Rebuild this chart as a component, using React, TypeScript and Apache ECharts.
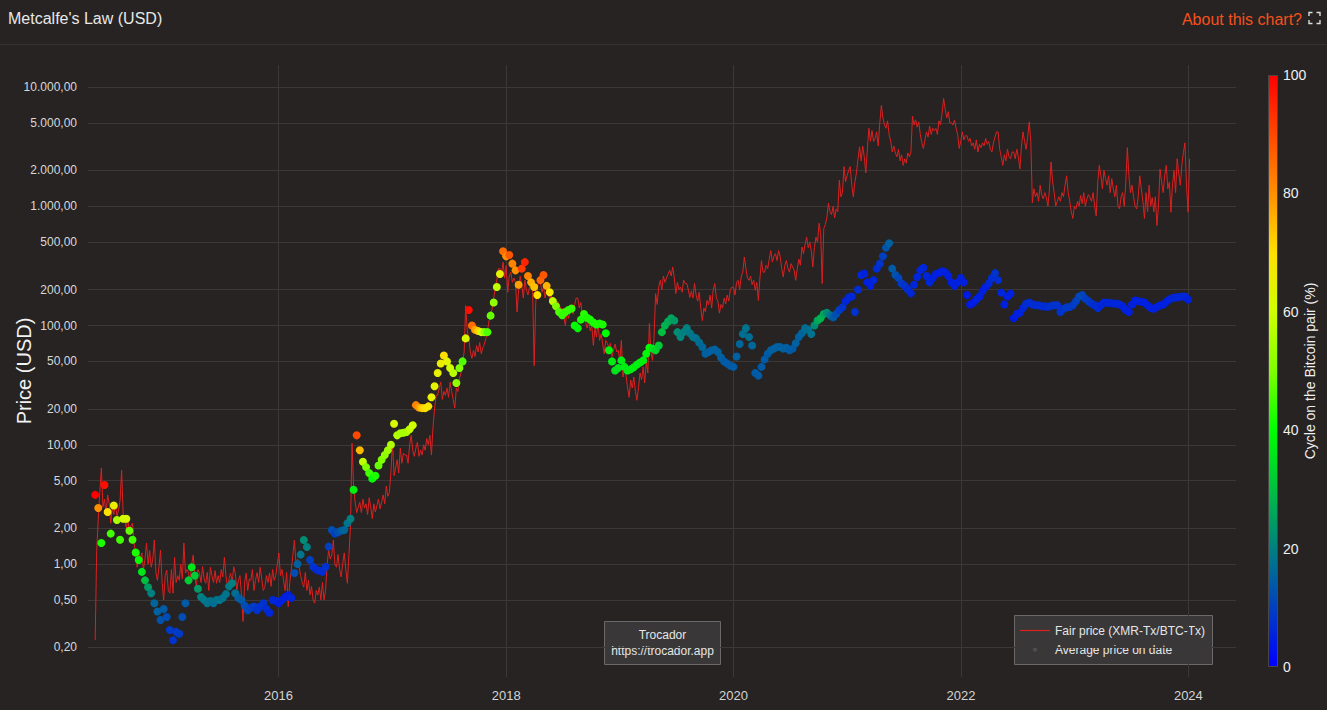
import React, { useEffect, useRef } from 'react';
import * as echarts from 'echarts';

// ---- data ----
// Fair price (XMR-Tx/BTC-Tx), one reading every 5 days from 2014-05-22
const FAIR_START = '2014-05-22';
const FAIR_STEP_DAYS = 5;
const fairPrice = [
  0.23, 1.3, 2.4, 4.0, 6.4, 3.0, 3.5, 2.6, 3.8, 3.25,
  2.2, 3.0, 2.6, 3.25, 2.5, 2.84, 3.4, 6.1, 2.6, 2.34,
  2.0, 2.4, 1.8, 2.1, 2.2, 1.5, 1.2, 0.94, 1.3, 1.1,
  1.24, 0.9, 1.1, 1.5, 1.0, 1.3, 0.94, 1.1, 1.59, 0.85,
  0.73, 0.95, 1.31, 0.7, 0.5, 0.8, 0.89, 0.6, 0.57, 0.9,
  0.57, 1.14, 0.7, 0.8, 0.73, 1.0, 0.75, 1.5, 0.84, 0.9,
  0.84, 0.7, 1.0, 1.19, 0.8, 0.64, 0.9, 0.84, 0.7, 0.95,
  0.75, 0.69, 0.85, 0.6, 0.94, 0.8, 0.7, 0.88, 0.69, 0.8,
  0.7, 0.9, 0.78, 1.14, 0.8, 0.64, 0.75, 0.84, 0.7, 0.95,
  0.84, 0.6, 0.73, 0.8, 0.55, 0.33, 0.7, 0.84, 0.6, 0.75,
  0.73, 0.9, 0.6, 0.73, 0.85, 0.7, 0.94, 0.75, 0.6, 0.64,
  0.8, 0.7, 0.84, 0.65, 0.9, 0.73, 0.8, 1.0, 1.24, 0.8,
  0.9, 0.73, 0.6, 0.85, 0.44, 0.7, 0.9, 1.2, 1.59, 1.0,
  1.1, 0.94, 0.8, 0.7, 0.64, 0.85, 0.6, 0.73, 0.55, 0.65,
  0.5, 0.47, 0.6, 0.55, 0.64, 0.5, 0.7, 0.5, 0.6, 1.0,
  1.31, 1.1, 1.2, 1.59, 1.0, 0.94, 1.2, 0.9, 0.78, 1.0,
  1.24, 0.9, 0.69, 1.2, 2.04, 10.3, 4.5, 3.3, 2.7, 3.0,
  3.3, 2.7, 3.5, 2.95, 3.2, 2.6, 3.6, 3.0, 2.4, 3.2,
  2.73, 3.1, 3.5, 2.9, 3.3, 3.8, 3.2, 4.5, 3.7, 4.0,
  6.0, 10.5, 5.5, 6.4, 7.5, 5.8, 9.4, 7.0, 8.5, 8.2,
  8.2, 7.0, 10, 12, 9.0, 8.0, 9.4, 10.5, 8.0, 9.0,
  8.2, 10, 9.0, 11.3, 10, 12, 8.2, 14, 20, 26,
  26, 30, 33.5, 24, 28, 26, 30, 25, 33.5, 28,
  24, 20.3, 30, 28, 36, 40, 49, 60, 147, 90,
  78, 60, 53, 62, 55, 68, 60, 72, 58, 65,
  70, 78, 90, 110, 116, 140, 170, 206, 240, 300,
  300, 270, 340, 250, 318, 190, 260, 280, 230, 250,
  230, 130, 200, 260, 218, 170, 240, 200, 180, 210,
  230, 190, 46, 156, 200, 250, 230, 190, 210, 170,
  200, 190, 165, 180, 156, 170, 140, 160, 150, 139,
  139, 120, 100, 130, 115, 130, 140, 125, 150, 170,
  170, 140, 156, 120, 130, 107, 95, 110, 90, 100,
  68, 95, 80, 104, 75, 85, 70, 58, 75, 71,
  65, 71, 55, 62, 70, 60, 62, 50, 75, 37,
  45, 38, 30, 25, 35, 30, 37, 28, 23.6, 30,
  40, 35, 45, 33, 50, 40, 104, 60, 51, 80,
  185, 150, 210, 239, 200, 260, 230, 250, 270, 290,
  260, 310, 250, 185, 230, 200, 210, 190, 240, 225,
  225, 200, 172, 195, 170, 225, 180, 160, 190, 140,
  110, 140, 130, 162, 150, 180, 140, 200, 225, 170,
  160, 127, 150, 140, 170, 152, 180, 160, 200, 210,
  210, 180, 230, 239, 200, 260, 280, 375, 300, 250,
  239, 260, 220, 240, 197, 230, 162, 250, 350, 280,
  280, 320, 300, 360, 425, 340, 380, 400, 350, 425,
  380, 300, 255, 320, 350, 300, 280, 330, 310, 290,
  239, 300, 360, 320, 455, 400, 480, 550, 450, 500,
  420, 310, 450, 550, 500, 720, 600, 225, 650, 700,
  800, 1060, 900, 850, 1000, 800, 950, 900, 1650, 1200,
  1300, 2150, 1600, 1800, 2000, 2150, 1500, 1200, 1600, 1900,
  2500, 3150, 2400, 3200, 2600, 1900, 3000, 4500, 3500, 4300,
  3500, 3700, 4200, 3200, 5000, 7000, 5500, 4800, 4500, 5200,
  4000, 3500, 2850, 3200, 2800, 2600, 3000, 2400, 2700, 2200,
  2500, 2300, 2800, 2600, 2850, 5700, 4800, 5300, 4600, 5100,
  4000, 3400, 3050, 3600, 4200, 3800, 4700, 4000, 4500, 4300,
  4500, 4000, 5200, 4800, 6000, 8000, 6500, 5500, 6200, 5000,
  5000, 4800, 5300, 4500, 4000, 3050, 3500, 4200, 3600, 3900,
  3900, 3500, 3700, 3200, 3400, 3000, 3600, 2850, 3300, 3100,
  3400, 3200, 3700, 3300, 3500, 3000, 2850, 3400, 3800, 4200,
  4200, 3000, 2600, 2200, 2700, 2400, 3000, 2600, 2500, 2850,
  2850, 2500, 3000, 2600, 2050, 3200, 4200, 3500, 3000, 3800,
  5100, 3500, 1070, 1400, 1200, 1300, 1100, 1500, 1250, 1150,
  1300, 1180, 1000, 1400, 2350, 1600, 1300, 1000, 1100, 1200,
  1100, 1300, 1200, 1500, 1800, 1300, 1100, 900, 790, 1000,
  950, 1100, 1000, 1230, 1050, 1300, 1000, 1150, 1250, 1180,
  1100, 1300, 1000, 830, 1600, 2200, 1800, 1400, 2000, 1700,
  1500, 1800, 1300, 1700, 1400, 1200, 1500, 1000, 950, 1200,
  1300, 1000, 1560, 3100, 1800, 1300, 1500, 1200, 1000, 950,
  1200, 1800, 1400, 1100, 790, 1300, 900, 1500, 1000, 1180,
  900, 1200, 690, 1000, 2050, 1600, 1300, 1800, 2200, 1400,
  1600, 890, 1500, 2000, 1300, 2500, 1900, 1500, 2200, 2800,
  3400, 1500, 890, 2500,
];

// Average price on date, one reading every 10 days from 2014-05-22
const AVG_START = '2014-05-22';
const AVG_STEP_DAYS = 10;
const avgPrice = [
  3.8, 2.95, 1.5, 4.6, 2.73, 1.8, 3.1, 2.34, 1.6, 2.4,
  2.4, 1.9, 1.6, 1.25, 1.08, 0.86, 0.73, 0.64, 0.57, 0.47,
  0.4, 0.34, 0.42, 0.36, 0.28, 0.23, 0.27, 0.26, 0.36, 0.47,
  0.73, 0.94, 0.8, 0.62, 0.53, 0.5, 0.47, 0.49, 0.47, 0.5,
  0.5, 0.52, 0.56, 0.65, 0.69, 0.57, 0.52, 0.5, 0.45, 0.41,
  0.43, 0.44, 0.41, 0.44, 0.47, 0.42, 0.39, 0.5, 0.49, 0.47,
  0.5, 0.53, 0.55, 0.52, 0.84, 1.0, 1.2, 1.59, 1.39, 1.08,
  0.95, 0.9, 0.88, 0.86, 0.95, 1.4, 1.93, 1.8, 1.85, 1.9,
  1.93, 2.2, 2.4, 4.2, 12, 9.0, 7.2, 6.5, 5.8, 5.2,
  5.5, 6.7, 7.5, 8.2, 9.0, 10, 15, 12, 12.5, 12.6,
  12.8, 13.5, 14.6, 21.5, 20.5, 20.3, 20.3, 21, 25, 31,
  40, 48, 56, 50, 44, 40, 33, 44, 50, 78,
  135, 100, 92, 90, 88, 88, 88, 121, 156, 210,
  270, 420, 380, 390, 330, 290, 220, 300, 340, 260,
  230, 210, 180, 240, 265, 215, 190, 160, 145, 130,
  122, 130, 135, 139, 100, 95, 112, 125, 116, 112,
  106, 102, 104, 102, 86, 62, 50, 42, 44, 51,
  45, 42, 43, 44.6, 47, 49, 51, 58, 65, 64,
  62, 68, 88, 100, 108, 115, 110, 88, 80, 88,
  95, 86, 80, 78, 72, 66, 58, 60, 62, 63,
  60, 54, 50, 48, 46, 45, 55, 70, 85, 95,
  80, 68, 40, 38, 45, 52, 58, 62, 64, 66,
  66, 64, 65, 62, 64, 71, 80, 86, 95, 92,
  85, 100, 110, 115, 125, 128, 122, 117, 125, 135,
  142, 160, 172, 175, 130, 200, 265, 273, 230, 215,
  240, 300, 330, 380, 450, 490, 300, 265, 250, 225,
  215, 200, 186, 220, 255, 290, 305, 260, 230, 250,
  270, 276, 285, 280, 260, 230, 215, 230, 250, 230,
  180, 150, 155, 165, 175, 195, 210, 225, 250, 275,
  240, 189, 150, 175, 185, 115, 125, 128, 140, 152,
  156, 150, 148, 148, 145, 145, 143, 146, 148, 148,
  130, 138, 142, 143, 148, 160, 175, 180, 168, 160,
  153, 148, 140, 148, 156, 155, 154, 153, 153, 150,
  145, 135, 130, 150, 162, 160, 158, 156, 148, 140,
  138, 143, 148, 150, 158, 165, 170, 172, 173, 175,
  175, 165,
];
// Cycle on the Bitcoin pair (%), same dates as avgPrice
const cycle = [
  100, 80, 42, 98, 70, 45, 66, 55, 45, 60,
  62, 48, 45, 42, 40, 36, 30, 24, 20, 16,
  15, 13, 14, 12, 9, 8, 9, 9, 12, 14,
  32, 36, 32, 24, 20, 19, 18, 18, 17, 18,
  18, 18, 18, 19, 20, 17, 15, 14, 12, 11,
  10, 9, 8, 8, 8, 7, 6, 6, 6, 5,
  5, 5, 5, 6, 12, 15, 18, 22, 20, 10,
  8, 7, 7, 7, 8, 10, 12, 10, 12, 14,
  16, 18, 20, 38, 90, 75, 58, 50, 45, 40,
  42, 48, 50, 52, 54, 56, 62, 56, 55, 55,
  55, 58, 60, 82, 78, 72, 70, 68, 65, 64,
  65, 66, 70, 64, 60, 57, 52, 50, 46, 62,
  98, 85, 78, 72, 60, 52, 46, 48, 52, 58,
  64, 85, 80, 88, 82, 80, 78, 92, 95, 82,
  76, 74, 70, 86, 88, 76, 68, 58, 50, 46,
  44, 44, 44, 44, 40, 39, 42, 43, 42, 42,
  42, 42, 42, 42, 40, 38, 37, 36, 36, 37,
  37, 37, 37, 38, 38, 38, 38, 39, 40, 36,
  34, 32, 30, 28, 27, 26, 24, 22, 21, 20,
  20, 19, 18, 18, 17, 16, 15, 15, 15, 15,
  15, 15, 14, 14, 14, 14, 15, 16, 17, 18,
  17, 16, 14, 14, 14, 14, 14, 15, 15, 15,
  15, 15, 15, 14, 14, 15, 15, 16, 17, 17,
  18, 22, 26, 28, 26, 22, 18, 14, 12, 10,
  8, 6, 6, 6, 8, 7, 6, 5, 5, 5,
  6, 7, 8, 10, 13, 15, 14, 13, 11, 9,
  8, 7, 6, 6, 6, 6, 6, 6, 6, 5,
  5, 5, 5, 5, 5, 5, 5, 5, 5, 5,
  4, 4, 4, 5, 5, 5, 5, 6, 7, 8,
  7, 6, 5, 5, 5, 4, 5, 5, 6, 7,
  7, 7, 7, 7, 7, 7, 7, 8, 8, 8,
  8, 8, 9, 9, 9, 10, 11, 11, 10, 9,
  8, 7, 7, 6, 6, 6, 6, 6, 6, 6,
  5, 5, 5, 5, 5, 5, 5, 5, 5, 5,
  5, 5, 5, 5, 5, 5, 6, 6, 6, 6,
  6, 5,
];

const yTickValues = [0.2, 0.5, 1, 2, 5, 10, 20, 50, 100, 200, 500, 1000, 2000, 5000, 10000];
const xTickYears = [2016, 2018, 2020, 2022, 2024];
const cycleColors = [
  '#0000ff', '#0040c0', '#008080', '#00c040', '#00ff00', '#80ff00',
  '#d0ff00', '#ffe000', '#ff9000', '#ff4800', '#ff0000',
];

const DAY = 86400000;
const FONT = '"Liberation Sans", Arial, sans-serif';
const GRID = '#3b3838';
const BG = '#262322';

function fmtEU(v: number): string {
  const s = Number(v).toFixed(2);
  const [i, d] = s.split('.');
  return i.replace(/\B(?=(\d{3})+(?!\d))/g, '.') + ',' + d;
}

export default function App() {
  const ref = useRef<HTMLDivElement>(null);
  useEffect(() => {
    const chart = echarts.init(ref.current!, null, { renderer: 'svg' });
    const f0 = Date.parse(FAIR_START + 'T00:00:00Z');
    const a0 = Date.parse(AVG_START + 'T00:00:00Z');
    const fairData = fairPrice.map((v, i) => [f0 + i * FAIR_STEP_DAYS * DAY, v]);
    const avgData = avgPrice.map((v, i) => [a0 + i * AVG_STEP_DAYS * DAY, v, cycle[i]]);
    const xTicks = xTickYears.map((y) => Date.UTC(y, 0, 1));
    const stops = cycleColors.map((c, i) => ({ offset: i / (cycleColors.length - 1), color: c }));

    const iconColor = '#dcdcdc';
    const option: any = {
      animation: false,
      backgroundColor: BG,
      textStyle: { fontFamily: FONT },
      title: {
        text: "Metcalfe's Law (USD)",
        left: 8,
        top: 10,
        padding: 0,
        textStyle: { color: '#e8e8e8', fontSize: 16, fontWeight: 'normal', fontFamily: FONT },
      },
      grid: [
        { left: 88, right: 91, top: 65, bottom: 33, containLabel: false, outerBoundsMode: 'none' },
        { left: 1268, width: 10, top: 75, height: 592, containLabel: false, outerBoundsMode: 'none' },
      ],
      xAxis: [
        {
          type: 'value',
          gridIndex: 0,
          min: Date.UTC(2014, 3, 29),
          max: Date.UTC(2024, 5, 2),
          axisLine: { show: false },
          axisTick: { show: false, customValues: xTicks },
          axisLabel: {
            customValues: xTicks,
            formatter: (v: number) => String(new Date(v).getUTCFullYear()),
            color: '#d4d4d4',
            fontSize: 13,
            margin: 12,
            fontFamily: FONT,
          },
          splitLine: { show: true, lineStyle: { color: GRID, width: 1 } },
        },
        { type: 'category', gridIndex: 1, data: ['cycle'], show: false },
      ],
      yAxis: [
        {
          type: 'log',
          logBase: 10,
          gridIndex: 0,
          min: 0.113,
          max: 15280,
          name: 'Price (USD)',
          nameLocation: 'middle',
          nameGap: 54,
          nameRotate: 90,
          nameMoveOverlap: false,
          nameTextStyle: { color: '#f2f2f2', fontSize: 20, fontFamily: FONT },
          axisLine: { show: false },
          axisTick: { show: false, customValues: yTickValues },
          axisLabel: {
            customValues: yTickValues,
            formatter: (v: number) => fmtEU(v),
            color: '#d8d8d8',
            fontSize: 12,
            margin: 11,
            fontFamily: FONT,
          },
          splitLine: { show: true, lineStyle: { color: GRID, width: 1 } },
        },
        {
          type: 'value',
          gridIndex: 1,
          min: 0,
          max: 100,
          interval: 20,
          position: 'right',
          name: 'Cycle on the Bitcoin pair (%)',
          nameLocation: 'middle',
          nameRotate: 90,
          nameGap: 25,
          nameMoveOverlap: false,
          nameTextStyle: { color: '#f0f0f0', fontSize: 14, fontFamily: FONT },
          axisLine: { show: false },
          axisTick: { show: false },
          splitLine: { show: false },
          axisLabel: { color: '#f0f0f0', fontSize: 14, margin: 5, fontFamily: FONT },
        },
      ],
      visualMap: {
        type: 'continuous',
        show: false,
        seriesIndex: 1,
        dimension: 2,
        min: 0,
        max: 100,
        inRange: { color: cycleColors },
      },
      series: [
        {
          type: 'line',
          name: 'Fair price (XMR-Tx/BTC-Tx)',
          xAxisIndex: 0,
          yAxisIndex: 0,
          data: fairData,
          symbol: 'none',
          lineStyle: { color: '#dd2020', width: 1 },
          z: 2,
          silent: true,
        },
        {
          type: 'scatter',
          name: 'Average price on date',
          xAxisIndex: 0,
          yAxisIndex: 0,
          data: avgData,
          symbolSize: 8,
          itemStyle: { opacity: 1 },
          z: 3,
          silent: true,
        },
        {
          type: 'bar',
          xAxisIndex: 1,
          yAxisIndex: 1,
          data: [100],
          barWidth: '100%',
          silent: true,
          itemStyle: {
            color: new echarts.graphic.LinearGradient(0, 1, 0, 0, stops),
            borderColor: '#4a4646',
            borderWidth: 1,
          },
        },
      ],
      graphic: [
        { type: 'line', shape: { x1: 0, y1: 44.5, x2: 1327, y2: 44.5 }, style: { stroke: '#353131', lineWidth: 1 } },
        {
          type: 'text',
          x: 1302,
          y: 19,
          style: { text: 'About this chart?', fill: '#f4511e', fontSize: 16, fontFamily: FONT, align: 'right', verticalAlign: 'middle' },
        },
        { type: 'polyline', shape: { points: [[1309, 16], [1309, 12.5], [1312.5, 12.5]] }, style: { stroke: iconColor, lineWidth: 1.4, fill: 'none' } },
        { type: 'polyline', shape: { points: [[1316.5, 12.5], [1320, 12.5], [1320, 16]] }, style: { stroke: iconColor, lineWidth: 1.4, fill: 'none' } },
        { type: 'polyline', shape: { points: [[1309, 20], [1309, 23.5], [1312.5, 23.5]] }, style: { stroke: iconColor, lineWidth: 1.4, fill: 'none' } },
        { type: 'polyline', shape: { points: [[1316.5, 23.5], [1320, 23.5], [1320, 20]] }, style: { stroke: iconColor, lineWidth: 1.4, fill: 'none' } },
        {
          type: 'group',
          children: [
            { type: 'rect', shape: { x: 604.5, y: 621.5, width: 116, height: 43 }, style: { fill: '#393737', stroke: '#6a6868', lineWidth: 1 } },
            { type: 'text', x: 662.5, y: 635, style: { text: 'Trocador', fill: '#e6e6e6', fontSize: 12, fontFamily: FONT, align: 'center', verticalAlign: 'middle' } },
            { type: 'text', x: 662.5, y: 651, style: { text: 'https://trocador.app', fill: '#e6e6e6', fontSize: 12, fontFamily: FONT, align: 'center', verticalAlign: 'middle' } },
          ],
        },
        {
          type: 'group',
          children: [
            { type: 'rect', shape: { x: 1014.5, y: 615.5, width: 198, height: 49 }, style: { fill: '#393737', stroke: '#6a6868', lineWidth: 1 } },
            { type: 'line', shape: { x1: 1020, y1: 630.5, x2: 1050, y2: 630.5 }, style: { stroke: '#dd2020', lineWidth: 1.2 } },
            { type: 'text', x: 1055, y: 630.5, style: { text: 'Fair price (XMR-Tx/BTC-Tx)', fill: '#e6e6e6', fontSize: 12, fontFamily: FONT, verticalAlign: 'middle' } },
            { type: 'circle', shape: { cx: 1035, cy: 649.5, r: 2.3 }, style: { fill: '#4f4c4c' } },
            { type: 'text', x: 1055, y: 649.5, style: { text: 'Average price on date', fill: '#e6e6e6', fontSize: 12, fontFamily: FONT, verticalAlign: 'middle' } },
          ],
        },
      ],
    };
    chart.setOption(option);
    return () => chart.dispose();
  }, []);
  return (
    <div
      ref={ref}
      style={{ position: 'fixed', left: 0, top: 0, width: 1327, height: 710, background: BG }}
    />
  );
}
